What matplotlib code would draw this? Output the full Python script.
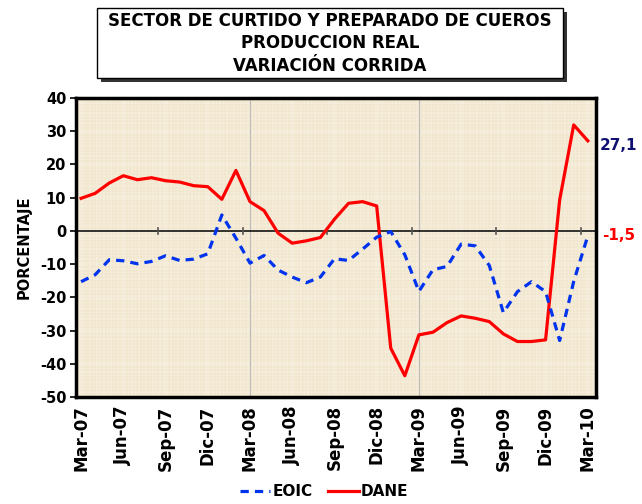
import numpy as np
import matplotlib.pyplot as plt
from matplotlib.patches import Rectangle
from matplotlib.ticker import MultipleLocator

plt.rcParams['axes.unicode_minus'] = False

# Datos: variación corrida (%) mensual, Mar-07 a Mar-10
meses = ['Mar-07', 'Abr-07', 'May-07', 'Jun-07', 'Jul-07', 'Ago-07', 'Sep-07', 'Oct-07',
         'Nov-07', 'Dic-07', 'Ene-08', 'Feb-08', 'Mar-08', 'Abr-08', 'May-08', 'Jun-08',
         'Jul-08', 'Ago-08', 'Sep-08', 'Oct-08', 'Nov-08', 'Dic-08', 'Ene-09', 'Feb-09',
         'Mar-09', 'Abr-09', 'May-09', 'Jun-09', 'Jul-09', 'Ago-09', 'Sep-09', 'Oct-09',
         'Nov-09', 'Dic-09', 'Ene-10', 'Feb-10', 'Mar-10']

eoic = [-15.3, -13.2, -8.7, -9.0, -9.9, -9.2, -7.5, -8.9, -8.5, -6.9, 4.8, -2.2,
        -9.7, -7.4, -11.8, -13.9, -15.6, -13.9, -8.4, -8.9, -5.5, -1.9, -0.2, -7.2,
        -18.2, -11.7, -10.7, -4.0, -4.5, -10.4, -24.6, -18.3, -15.3, -18.3, -33.0, -15.2, -1.5]

dane = [9.8, 11.3, 14.4, 16.6, 15.4, 16.0, 15.1, 14.7, 13.6, 13.3, 9.5, 18.2,
        8.8, 6.1, -0.7, -3.7, -3.0, -2.0, 3.5, 8.3, 8.8, 7.5, -35.3, -43.6,
        -31.3, -30.5, -27.6, -25.6, -26.3, -27.3, -31.0, -33.3, -33.3, -32.8, 9.3, 31.9, 27.1]

x = np.arange(len(meses))

fig = plt.figure(figsize=(6.42, 5.04), dpi=100)
ax = fig.add_axes([0.1184, 0.2123, 0.8099, 0.5933])

# fondo tipo papel cuadriculado
ax.set_facecolor('#F6EEDC')
ax.xaxis.set_minor_locator(MultipleLocator(0.25))
ax.yaxis.set_minor_locator(MultipleLocator(1))
ax.grid(which='minor', color='#EDDDBE', lw=0.35)
ax.grid(which='major', visible=False)
ax.tick_params(which='minor', length=0)

# líneas verticales grises (Mar-08, Mar-09)
for xv in [12, 24]:
    ax.axvline(xv, color='#B8B8B8', lw=0.9, zorder=1)

ax.axhline(0, color='black', lw=1.1, zorder=2)
# marcas del eje de categorías sobre el cero
for xt in np.arange(5.5, len(meses), 6):
    ax.plot([xt, xt], [-0.9, 0.9], color='#555555', lw=1.2, zorder=2)

ax.plot(x, eoic, color='#0033EE', lw=2.3, linestyle=(0, (2.6, 1.9)),
        label='EOIC', zorder=4)
ax.plot(x, dane, color='#FF0000', lw=2.3, label='DANE', zorder=3)

ax.set_xlim(-0.36, 36.58)
ax.set_ylim(-50, 40)
ax.set_yticks(np.arange(-50, 41, 10))
ax.set_xticks(x[::3])
ax.set_xticklabels(meses[::3], rotation=90, fontsize=12, fontweight='bold')
for lbl in ax.get_yticklabels():
    lbl.set_fontweight('bold')
    lbl.set_fontsize(10.5)
ax.tick_params(axis='x', which='major', length=0, pad=6)
ax.tick_params(axis='y', which='major', length=4, width=1.2, pad=3)
for s in ax.spines.values():
    s.set_linewidth(2.5)
    s.set_color('black')

ax.set_ylabel('PORCENTAJE', fontsize=10.5, fontweight='bold', labelpad=6)

# valores finales
fig.text(0.934, 0.712, '27,1', color='#101070', fontsize=11, fontweight='bold',
         va='center', ha='left')
fig.text(0.938, 0.532, '-1,5', color='#FF0000', fontsize=11, fontweight='bold',
         va='center', ha='left')

# caja del título con sombra
fig.patches.append(Rectangle((0.157, 0.837), 0.726, 0.139, transform=fig.transFigure,
                             facecolor='#333333', edgecolor='none', zorder=1))
fig.patches.append(Rectangle((0.151, 0.845), 0.726, 0.139, transform=fig.transFigure,
                             facecolor='white', edgecolor='black', lw=1.0, zorder=2))
fig.text(0.514, 0.914, 'SECTOR DE CURTIDO Y PREPARADO DE CUEROS\nPRODUCCION REAL\nVARIACIÓN CORRIDA',
         ha='center', va='center', fontsize=12, fontweight='bold', linespacing=1.3, zorder=3)

fig.legend(loc='center', bbox_to_anchor=(0.505, 0.024), ncol=2, frameon=False,
           prop={'weight': 'bold', 'size': 11}, handlelength=2.0, handletextpad=0.15,
           columnspacing=1.0)

fig.savefig('out.png', dpi=100)
